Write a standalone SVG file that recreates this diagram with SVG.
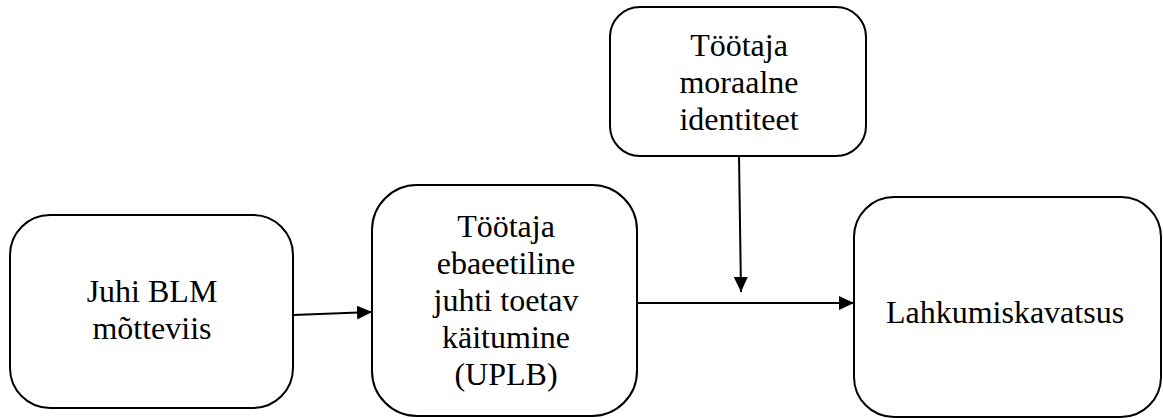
<svg xmlns="http://www.w3.org/2000/svg" width="1163" height="418" viewBox="0 0 1163 418">
<style>
.box{fill:#fff;stroke:#000;stroke-width:2}
.t{font-family:"Liberation Serif","Times New Roman",serif;font-size:32px;fill:#000;text-anchor:middle}
.c{stroke:#000;stroke-width:2;fill:none}
</style>
<defs>
<marker id="ah" markerWidth="15" markerHeight="14" refX="15" refY="7" orient="auto" markerUnits="userSpaceOnUse">
<path d="M0,0 L15,7 L0,14 Z" fill="#000"/>
</marker>
</defs>
<rect width="1163" height="418" fill="#fff"/>
<g id="n1">
<rect class="box" x="10" y="215" width="283" height="193" rx="40"/>
<text class="t" x="152" y="302">Juhi BLM</text>
<text class="t" x="152" y="339">mõtteviis</text>
</g>
<g id="n2">
<rect class="box" x="372" y="185" width="265" height="231" rx="45"/>
<text class="t" x="506" y="237">Töötaja</text>
<text class="t" x="506" y="274">ebaeetiline</text>
<text class="t" x="506" y="311">juhti toetav</text>
<text class="t" x="506" y="348">käitumine</text>
<text class="t" x="506" y="385">(UPLB)</text>
</g>
<g id="n3">
<rect class="box" x="610" y="7" width="256" height="149" rx="30"/>
<text class="t" x="739" y="56">Töötaja</text>
<text class="t" x="739" y="93">moraalne</text>
<text class="t" x="739" y="130">identiteet</text>
</g>
<g id="n4">
<rect class="box" x="854" y="197" width="307" height="220" rx="40"/>
<text class="t" x="1005" y="323">Lahkumiskavatsus</text>
</g>
<g id="connectors">
<line class="c" x1="293" y1="315" x2="372" y2="312" marker-end="url(#ah)"/>
<line class="c" x1="637" y1="303" x2="854" y2="303" marker-end="url(#ah)"/>
<line class="c" x1="739" y1="156" x2="741" y2="292" marker-end="url(#ah)"/>
</g>
</svg>
